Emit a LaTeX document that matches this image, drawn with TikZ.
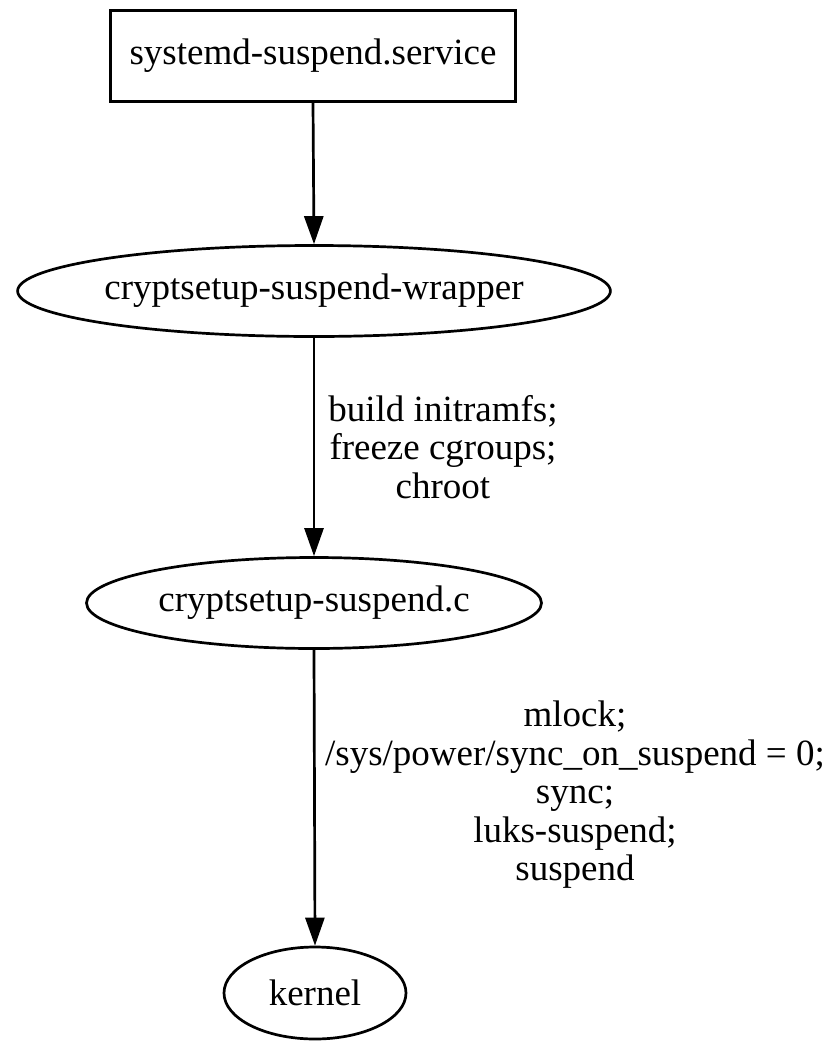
\documentclass[tikz,border=0pt]{standalone}
\usepackage{fontspec}
\setmainfont{Liberation Serif}
\usepackage{tikz}
\usetikzlibrary{shapes.geometric, arrows.meta}
\tikzstyle{arrow} = [line width=2.7pt,-{Triangle[length=28pt,width=19pt]}]
\tikzstyle{unit} = [draw, line width=2.7pt, rectangle, minimum width=405pt, minimum height=91pt, inner sep=0pt]
\tikzstyle{prog} = [draw, line width=2.7pt, ellipse, inner sep=0pt]
\tikzstyle{steps} = [align=center, inner sep=0pt]

\begin{document}
\begin{tikzpicture}[x=1pt, y=-1pt, font=\fontsize{37}{38.5}\selectfont]
	\useasboundingbox (0,0) rectangle (829,1042);
	\node[unit] (svc) at (313,56) {systemd-suspend.service};
	\node[prog, minimum width=591pt, minimum height=91pt] (wrap) at (314,291) {cryptsetup-suspend-wrapper};
	\node[prog, minimum width=455pt, minimum height=91pt] (csc) at (314,603) {cryptsetup-suspend.c};
	\node[prog, minimum width=182pt, minimum height=92pt] (kern) at (315,993) {kernel};
	% labels on the edges
	\node[steps] (prep) at (443,447) {build initramfs;\\freeze cgroups;\\chroot};
	\node[steps] (seq) at (575,795) {mlock;\\/sys/power/sync\_on\_suspend = 0;\\sync;\\luks-suspend;\\suspend};
	\draw[arrow] (svc.south) -- (wrap.north);
	\draw[arrow] (wrap.south) -- (csc.north);
	\draw[arrow] (csc.south) -- (kern.north);
	\end{tikzpicture}
\end{document}
